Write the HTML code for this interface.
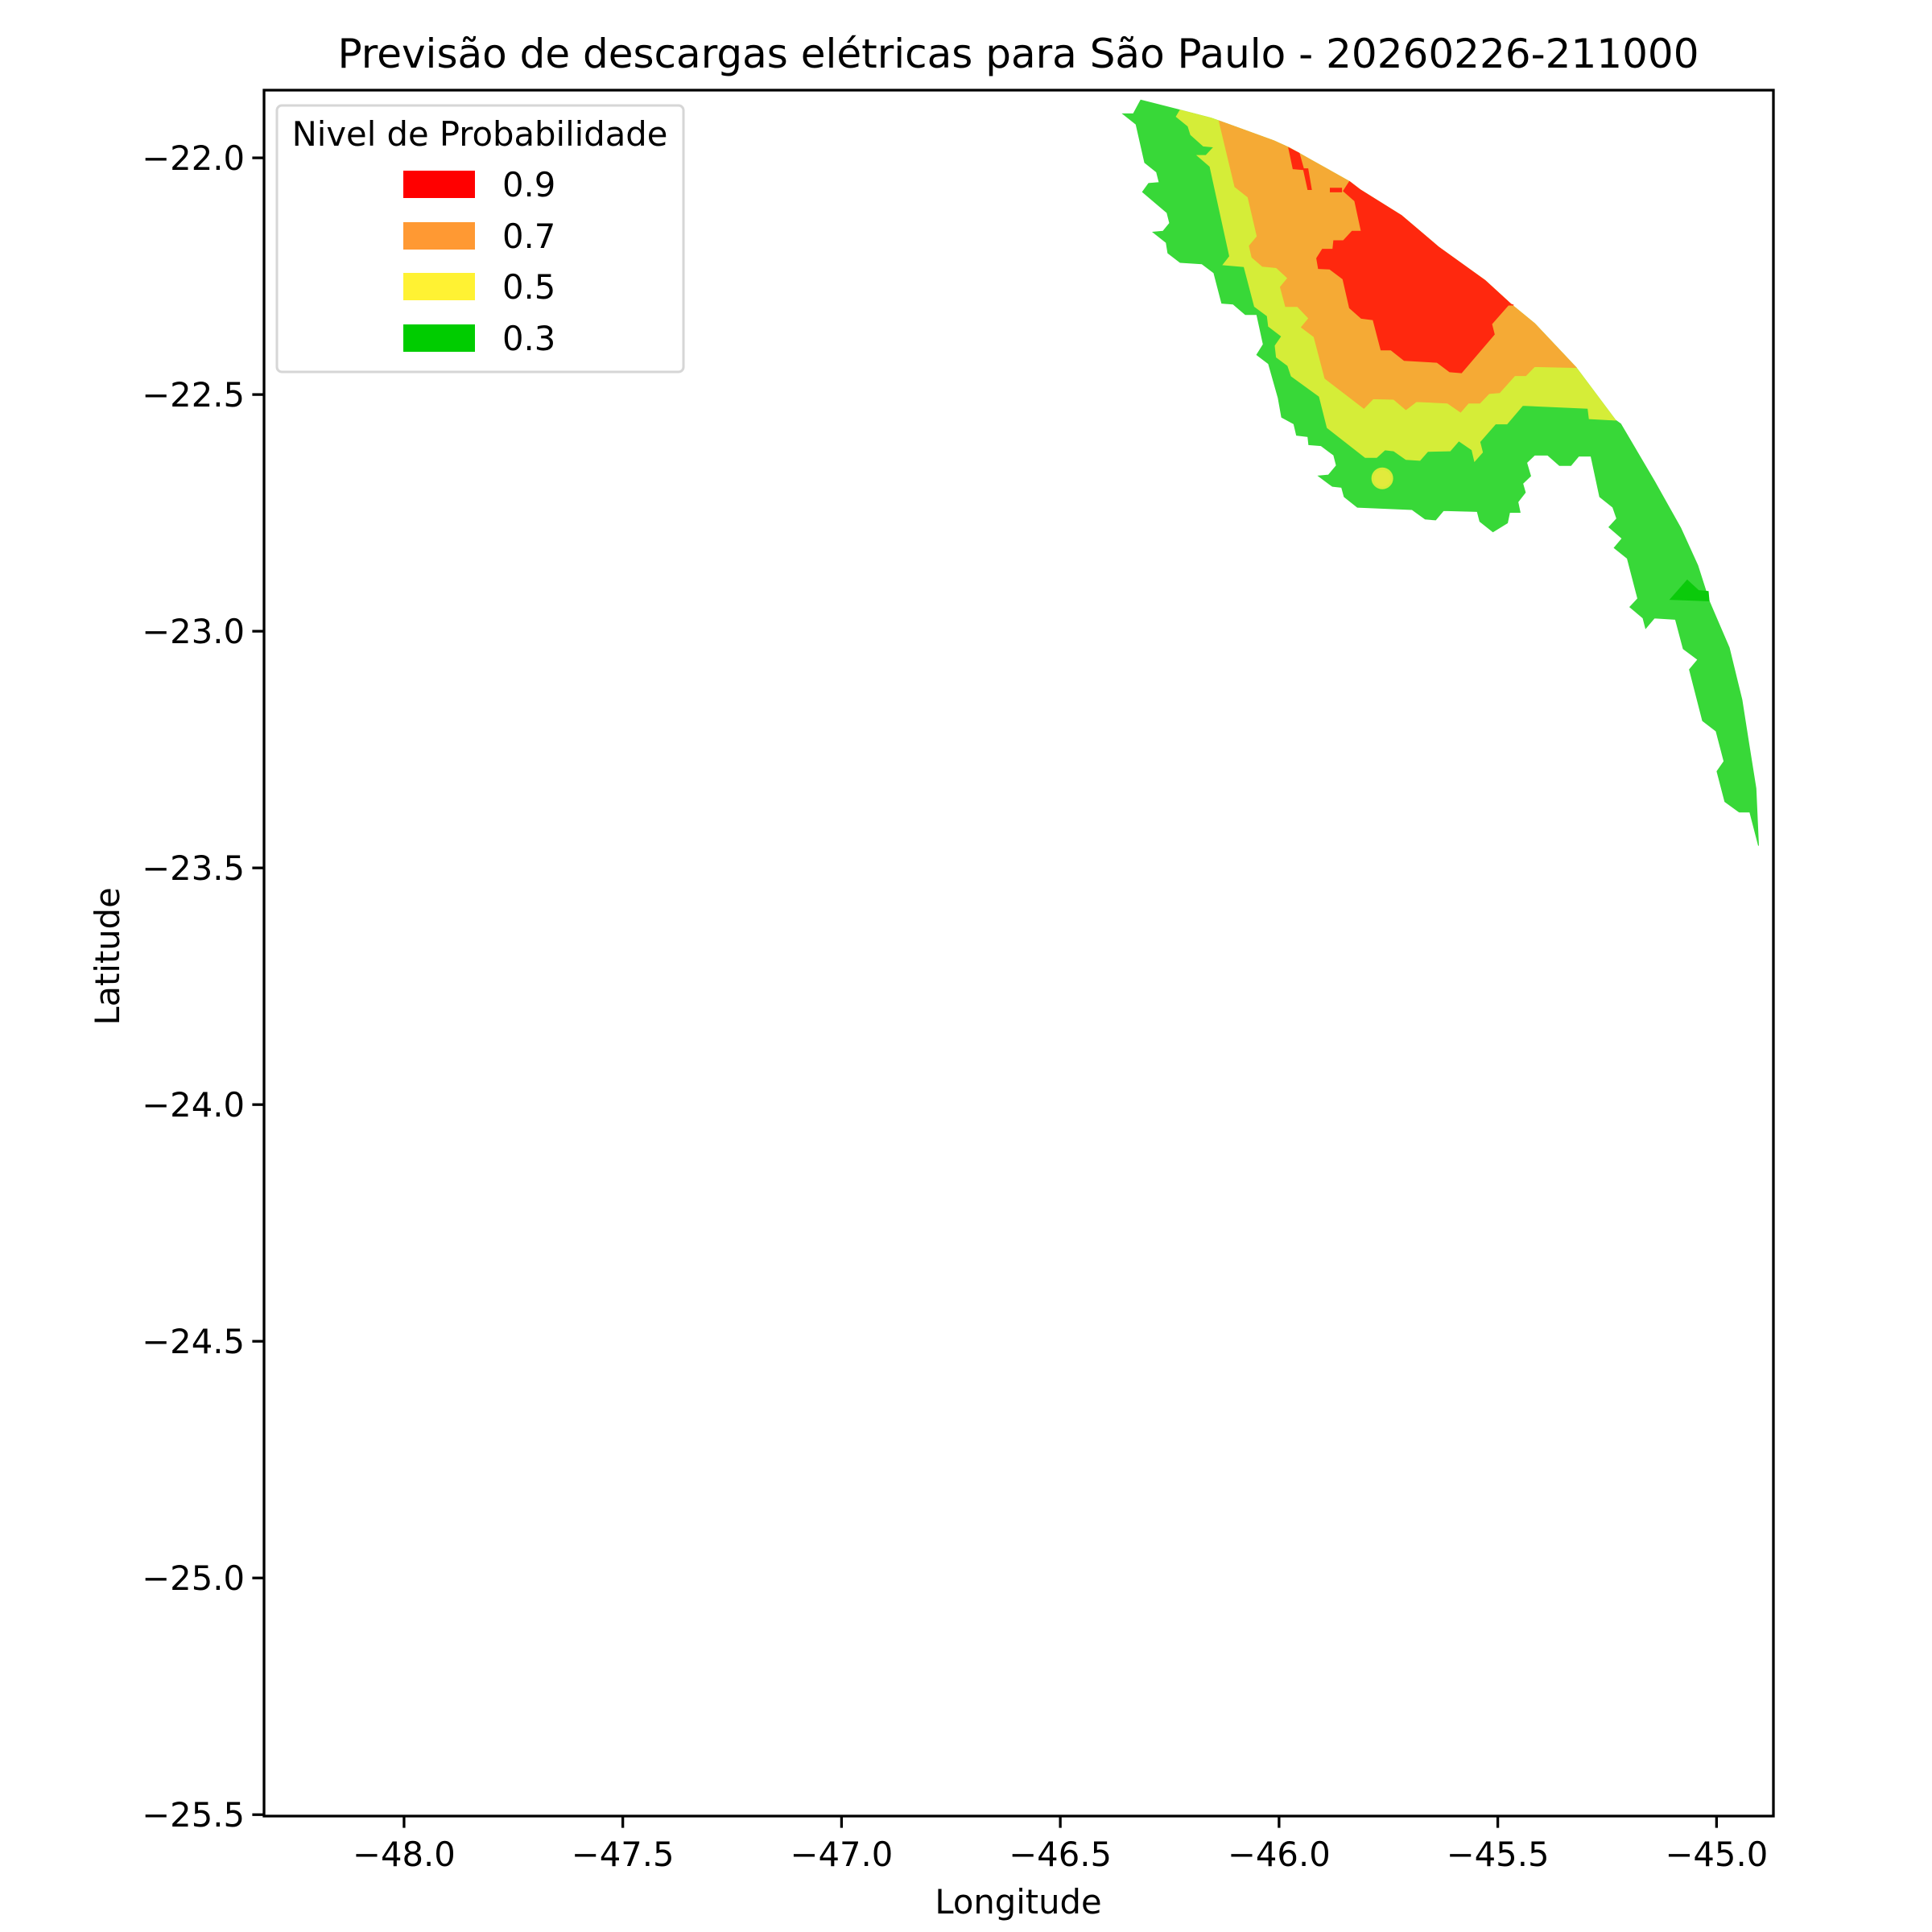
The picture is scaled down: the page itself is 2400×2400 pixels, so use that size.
<!DOCTYPE html>
<html><head><meta charset="utf-8"><style>
html,body{margin:0;padding:0;background:#fff}
svg{display:block}
text{font-family:"DejaVu Sans","Liberation Sans",sans-serif;fill:#000}
</style></head><body>
<svg id="chart" xmlns="http://www.w3.org/2000/svg" width="2400" height="2400" viewBox="0 0 2400 2400">
<rect x="0" y="0" width="2400" height="2400" fill="#fff"/>
<text x="1265" y="84" font-size="50" text-anchor="middle">Previsão de descargas elétricas para São Paulo - 20260226-211000</text>
<g id="plot"></g>
<g id="axes"></g>
<text x="1265" y="2377" font-size="41.7" text-anchor="middle">Longitude</text>
<text x="0" y="0" font-size="41.7" text-anchor="middle" transform="translate(148,1188) rotate(-90)">Latitude</text>
<g>
<rect x="344" y="131" width="505" height="331" rx="6" fill="#fff" fill-opacity="0.8" stroke="#d6d6d6" stroke-width="3"/>
<text x="596" y="181" font-size="41.7" text-anchor="middle">Nivel de Probabilidade</text>
<rect x="501" y="212" width="89" height="34" fill="#ff0000"/>
<text x="624" y="244" font-size="41.7">0.9</text>
<rect x="501" y="276" width="89" height="34" fill="#ff9933"/>
<text x="624" y="308" font-size="41.7">0.7</text>
<rect x="501" y="339" width="89" height="34" fill="#fff233"/>
<text x="624" y="371" font-size="41.7">0.5</text>
<rect x="501" y="403" width="89" height="34" fill="#00cc00"/>
<text x="624" y="435" font-size="41.7">0.3</text>
</g>
</svg>
<script>
const xTicks = [-48.0, -47.5, -47.0, -46.5, -46.0, -45.5, -45.0];
const xTickLabels = ["−48.0", "−47.5", "−47.0", "−46.5", "−46.0", "−45.5", "−45.0"];
const yTicks = [-22.0, -22.5, -23.0, -23.5, -24.0, -24.5, -25.0, -25.5];
const yTickLabels = ["−22.0", "−22.5", "−23.0", "−23.5", "−24.0", "−24.5", "−25.0", "−25.5"];
const xDomain = [-48.32, -44.87];
const yDomain = [-21.857, -25.503];

// Outer arc of the forecast region (lon, lat)
const arc = [[-46.226,-21.899],[-46.155,-21.916],[-46.137,-21.922],[-46.012,-21.964],[-45.976,-21.979],[-45.928,-22.004],[-45.839,-22.050],[-45.815,-22.067],[-45.720,-22.122],[-45.636,-22.188],[-45.529,-22.259],[-45.470,-22.309],[-45.416,-22.350],[-45.321,-22.443],[-45.231,-22.554],[-45.219,-22.562],[-45.142,-22.683],[-45.082,-22.782],[-45.043,-22.861],[-45.017,-22.936],[-44.971,-23.035],[-44.942,-23.145],[-44.927,-23.233],[-44.910,-23.332],[-44.904,-23.453]];
const greenStart = [[-46.357,-21.907],[-46.333,-21.907],[-46.316,-21.878]];
const greenInner = [[-44.924,-23.382],[-44.948,-23.382],[-44.981,-23.360],[-44.999,-23.296],[-44.983,-23.275],[-45.001,-23.211],[-45.032,-23.189],[-45.062,-23.081],[-45.043,-23.060],[-45.076,-23.037],[-45.094,-22.975],[-45.142,-22.972],[-45.162,-22.994],[-45.168,-22.972],[-45.198,-22.949],[-45.180,-22.931],[-45.204,-22.846],[-45.234,-22.824],[-45.216,-22.804],[-45.246,-22.780],[-45.228,-22.762],[-45.237,-22.738],[-45.267,-22.716],[-45.287,-22.630],[-45.315,-22.630],[-45.333,-22.650],[-45.359,-22.650],[-45.386,-22.628],[-45.416,-22.628],[-45.434,-22.644],[-45.425,-22.672],[-45.443,-22.688],[-45.437,-22.707],[-45.454,-22.727],[-45.449,-22.749],[-45.473,-22.749],[-45.478,-22.771],[-45.511,-22.790],[-45.541,-22.768],[-45.547,-22.747],[-45.624,-22.745],[-45.642,-22.765],[-45.666,-22.763],[-45.696,-22.743],[-45.821,-22.738],[-45.851,-22.716],[-45.857,-22.696],[-45.878,-22.694],[-45.910,-22.672],[-45.887,-22.670],[-45.869,-22.650],[-45.875,-22.628],[-45.904,-22.608],[-45.932,-22.606],[-45.934,-22.589],[-45.960,-22.586],[-45.966,-22.562],[-45.994,-22.548],[-46.002,-22.507],[-46.024,-22.435],[-46.051,-22.416],[-46.036,-22.394],[-46.051,-22.331],[-46.077,-22.331],[-46.105,-22.309],[-46.131,-22.307],[-46.149,-22.243],[-46.176,-22.224],[-46.226,-22.221],[-46.254,-22.201],[-46.258,-22.179],[-46.288,-22.157],[-46.265,-22.155],[-46.250,-22.138],[-46.256,-22.116],[-46.312,-22.072],[-46.298,-22.054],[-46.274,-22.052],[-46.280,-22.030],[-46.307,-22.010],[-46.327,-21.929]];
const borderGreenYellow = [[-45.291,-22.551],[-45.294,-22.529],[-45.443,-22.523],[-45.479,-22.562],[-45.505,-22.562],[-45.541,-22.600],[-45.535,-22.622],[-45.553,-22.641],[-45.559,-22.617],[-45.589,-22.598],[-45.609,-22.619],[-45.660,-22.620],[-45.678,-22.639],[-45.710,-22.637],[-45.738,-22.619],[-45.758,-22.617],[-45.777,-22.633],[-45.803,-22.633],[-45.890,-22.570],[-45.908,-22.504],[-45.972,-22.461],[-45.980,-22.439],[-46.006,-22.421],[-46.009,-22.397],[-45.994,-22.377],[-46.024,-22.356],[-46.027,-22.334],[-46.056,-22.314],[-46.080,-22.230],[-46.128,-22.226],[-46.113,-22.208],[-46.158,-22.018],[-46.187,-21.995],[-46.167,-21.995],[-46.149,-21.977],[-46.173,-21.975],[-46.202,-21.951],[-46.208,-21.933],[-46.235,-21.913]];
const borderYellowOrange = [[-46.101,-22.061],[-46.071,-22.083],[-46.050,-22.166],[-46.068,-22.186],[-46.062,-22.210],[-46.038,-22.229],[-46.006,-22.232],[-45.980,-22.254],[-45.997,-22.273],[-45.985,-22.314],[-45.958,-22.314],[-45.932,-22.339],[-45.949,-22.358],[-45.920,-22.378],[-45.895,-22.466],[-45.806,-22.529],[-45.785,-22.509],[-45.738,-22.510],[-45.710,-22.532],[-45.686,-22.515],[-45.615,-22.518],[-45.585,-22.537],[-45.567,-22.518],[-45.541,-22.518],[-45.520,-22.498],[-45.496,-22.496],[-45.461,-22.460],[-45.436,-22.460],[-45.416,-22.441]];
const borderOrangeRed = [[-45.853,-22.070],[-45.827,-22.091],[-45.812,-22.155],[-45.833,-22.155],[-45.853,-22.175],[-45.875,-22.175],[-45.877,-22.193],[-45.901,-22.193],[-45.914,-22.212],[-45.910,-22.234],[-45.884,-22.235],[-45.854,-22.256],[-45.839,-22.317],[-45.812,-22.339],[-45.785,-22.342],[-45.767,-22.406],[-45.744,-22.406],[-45.714,-22.428],[-45.639,-22.432],[-45.610,-22.452],[-45.583,-22.454],[-45.508,-22.373],[-45.514,-22.351],[-45.476,-22.311],[-45.464,-22.311]];
const redStrip1 = [[-45.978,-21.979],[-45.954,-21.990],[-45.944,-22.023],[-45.934,-22.023],[-45.926,-22.067],[-45.934,-22.067],[-45.944,-22.025],[-45.968,-22.023]];
const redStrip2 = [[-45.883,-22.064],[-45.857,-22.064],[-45.857,-22.072],[-45.883,-22.072]];
const darkGreenPatch = [[-45.106,-22.933],[-45.067,-22.892],[-45.041,-22.914],[-45.019,-22.916],[-45.017,-22.936]];
const yellowSpot = [-45.764, -22.677];

const L = 328, R = 2203, T = 112, B = 2256;
function xs(v){ return L + (v - xDomain[0]) / (xDomain[1] - xDomain[0]) * (R - L); }
function ys(v){ return T + (v - yDomain[0]) / (yDomain[1] - yDomain[0]) * (B - T); }
const NS = "http://www.w3.org/2000/svg";
const plot = document.getElementById('plot');
const axes = document.getElementById('axes');
function pts(list){ return list.map(p => xs(p[0]).toFixed(1) + ',' + ys(p[1]).toFixed(1)).join(' '); }
function poly(list, fill, name){
  const el = document.createElementNS(NS, 'polygon');
  el.setAttribute('points', pts(list));
  el.setAttribute('fill', fill);
  el.setAttribute('stroke', fill);
  el.setAttribute('stroke-width', '1');
  
  
  plot.appendChild(el);
}
const greenPoly = greenStart.concat(arc, greenInner);
poly(greenPoly, '#38d838', 'contour-0.3');
const yellowPoly = arc.slice(0, 15).concat(borderGreenYellow);
poly(yellowPoly, '#d5ed38', 'contour-0.5');
const orangePoly = arc.slice(2, 14).concat(borderYellowOrange.slice().reverse());
poly(orangePoly, '#f5aa35', 'contour-0.7');
const redPoly = arc.slice(6, 12).concat(borderOrangeRed.slice().reverse());
poly(redPoly, '#ff280e', 'contour-0.9');
poly(redStrip1, '#ff280e', 'contour-0.9-strip');
poly(redStrip2, '#ff280e', 'contour-0.9-strip-small');
poly(darkGreenPatch, '#0bca0b', 'contour-dark-green-patch');
const dot = document.createElementNS(NS, 'circle');
dot.setAttribute('cx', xs(yellowSpot[0]));
dot.setAttribute('cy', ys(yellowSpot[1]));
dot.setAttribute('r', '12');
dot.setAttribute('fill', '#e2ea3c');
dot.setAttribute('stroke', '#d5ed38');
dot.setAttribute('stroke-width', '3');


plot.appendChild(dot);

// axes frame
const frame = document.createElementNS(NS, 'rect');
frame.setAttribute('x', L); frame.setAttribute('y', T);
frame.setAttribute('width', R - L); frame.setAttribute('height', B - T);
frame.setAttribute('fill', 'none'); frame.setAttribute('stroke', '#000'); frame.setAttribute('stroke-width', '3.3');


axes.appendChild(frame);
xTicks.forEach((t, i) => {
  const x = xs(t);
  const ln = document.createElementNS(NS, 'line');
  ln.setAttribute('x1', x); ln.setAttribute('x2', x); ln.setAttribute('y1', B); ln.setAttribute('y2', B + 14.6);
  ln.setAttribute('stroke', '#000'); ln.setAttribute('stroke-width', '3.3');
  
  
  axes.appendChild(ln);
  const tx = document.createElementNS(NS, 'text');
  tx.setAttribute('x', x); tx.setAttribute('y', B + 62);
  tx.setAttribute('font-size', '41.7'); tx.setAttribute('text-anchor', 'middle');
  tx.textContent = xTickLabels[i];
  
  
  axes.appendChild(tx);
});
yTicks.forEach((t, i) => {
  const y = ys(t);
  const ln = document.createElementNS(NS, 'line');
  ln.setAttribute('x1', L - 14.6); ln.setAttribute('x2', L); ln.setAttribute('y1', y); ln.setAttribute('y2', y);
  ln.setAttribute('stroke', '#000'); ln.setAttribute('stroke-width', '3.3');
  
  
  axes.appendChild(ln);
  const tx = document.createElementNS(NS, 'text');
  tx.setAttribute('x', L - 24); tx.setAttribute('y', y + 15);
  tx.setAttribute('font-size', '41.7'); tx.setAttribute('text-anchor', 'end');
  tx.textContent = yTickLabels[i];
  
  
  axes.appendChild(tx);
});
</script>
</body></html>
